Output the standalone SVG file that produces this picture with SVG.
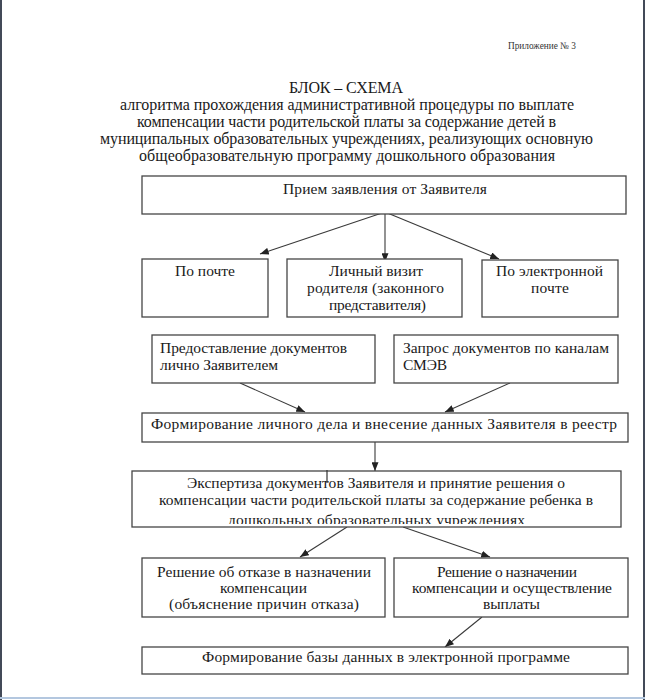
<svg xmlns="http://www.w3.org/2000/svg" width="645" height="700" viewBox="0 0 645 700">
<defs>
<style>
.box{fill:#fff;stroke:#454545;stroke-width:1.3}
.t{font-family:"Liberation Serif","Times New Roman",serif;font-size:15.5px;fill:#1a1a1a}
.c{text-anchor:middle}
.hd{font-family:"Liberation Serif","Times New Roman",serif;font-size:16px;fill:#1a1a1a;text-anchor:middle}
.ln{stroke:#3a3a3a;stroke-width:1.1;fill:none;marker-end:url(#ah)}
</style>
<marker id="ah" viewBox="0 0 10 8" markerWidth="9" markerHeight="7" refX="10" refY="4" orient="auto" markerUnits="userSpaceOnUse">
<path d="M0,0 L10,4 L0,8 z" fill="#222"/>
</marker>
<clipPath id="clipExp"><rect x="132" y="471" width="489" height="53"/></clipPath>
</defs>
<rect x="0" y="0" width="645" height="700" fill="#fff"/>
<rect x="0" y="0" width="2" height="700" fill="#434a58"/>
<rect x="643" y="0" width="2" height="700" fill="#434a58"/>
<rect x="0" y="697" width="645" height="2" fill="#b3c7df"/>

<g id="header">
<text x="508" y="49" font-family="Liberation Serif, serif" font-size="10" fill="#333" textLength="68" lengthAdjust="spacingAndGlyphs">Приложение № 3</text>
<text class="hd" x="346" y="93" textLength="114">БЛОК – СХЕМА</text>
<text class="hd" x="347" y="110" textLength="454">алгоритма прохождения административной процедуры по выплате</text>
<text class="hd" x="346.5" y="127" textLength="419">компенсации части родительской платы за содержание детей в</text>
<text class="hd" x="346.5" y="144" textLength="493">муниципальных образовательных учреждениях, реализующих основную</text>
<text class="hd" x="347" y="161" textLength="416">общеобразовательную программу дошкольного образования</text>
</g>

<g id="connectors">
<line class="ln" x1="385" y1="212" x2="260" y2="254"/>
<line class="ln" x1="385" y1="212" x2="385" y2="262"/>
<line class="ln" x1="385" y1="212" x2="499" y2="259"/>
<line class="ln" x1="240" y1="383" x2="305" y2="412"/>
<line class="ln" x1="510" y1="383" x2="445" y2="412"/>
<line class="ln" x1="375" y1="442" x2="375" y2="471"/>
<line class="ln" x1="347" y1="527" x2="300" y2="557"/>
<line class="ln" x1="403" y1="527" x2="490" y2="557"/>
<line class="ln" x1="482" y1="617" x2="445" y2="647"/>
</g>

<g id="n_priem">
<rect class="box" x="142" y="176" width="484" height="38"/>
<text class="t c" x="385" y="194" textLength="204">Прием заявления от Заявителя</text>
</g>

<g id="n_pochta">
<rect class="box" x="142" y="259" width="126" height="58"/>
<text class="t c" x="205" y="276" textLength="60">По почте</text>
</g>

<g id="n_vizit">
<rect class="box" x="287" y="259" width="175" height="58"/>
<text class="t c" x="376" y="276" textLength="94">Личный визит</text>
<text class="t c" x="375.5" y="293" textLength="137">родителя (законного</text>
<text class="t c" x="377.5" y="310" textLength="97">представителя)</text>
</g>

<g id="n_email">
<rect class="box" x="482" y="260" width="136" height="57"/>
<text class="t c" x="549.5" y="276" textLength="107">По электронной</text>
<text class="t c" x="550" y="293" textLength="38">почте</text>
</g>

<g id="n_lichno">
<rect class="box" x="152" y="335" width="223" height="48"/>
<text class="t" x="160" y="353" textLength="187">Предоставление документов</text>
<text class="t" x="160" y="370" textLength="118">лично Заявителем</text>
</g>

<g id="n_smev">
<rect class="box" x="394" y="335" width="224" height="48"/>
<text class="t" x="403" y="353" textLength="206">Запрос документов  по каналам</text>
<text class="t" x="403" y="370" textLength="44">СМЭВ</text>
</g>

<g id="n_reestr">
<rect class="box" x="142" y="413" width="486" height="29"/>
<text class="t c" x="384" y="429" textLength="466">Формирование  личного дела и внесение данных Заявителя в реестр</text>
</g>

<g id="n_expertiza">
<rect class="box" x="132" y="471" width="489" height="56"/>
<text class="t c" x="376" y="488" textLength="378">Экспертиза документов Заявителя и принятие решения о</text>
<text class="t c" x="376" y="505" textLength="434">компенсации части родительской платы за содержание ребенка в</text>
<text class="t c" x="376.5" y="524.5" textLength="297" clip-path="url(#clipExp)">дошкольных образовательных учреждениях</text>
<line x1="327" y1="470" x2="327" y2="483" stroke="#333" stroke-width="1.2"/>
</g>

<g id="n_otkaz">
<rect class="box" x="142" y="558" width="243" height="59"/>
<text class="t c" x="264" y="577" textLength="214">Решение об отказе в назначении</text>
<text class="t c" x="263.5" y="593" textLength="87">компенсации</text>
<text class="t c" x="264" y="609" textLength="190">(объяснение причин  отказа)</text>
</g>

<g id="n_naznach">
<rect class="box" x="394" y="558" width="234" height="59"/>
<text class="t c" x="507" y="577" textLength="140">Решение о назначении</text>
<text class="t c" x="512" y="593" textLength="200">компенсации и осуществление</text>
<text class="t c" x="511.5" y="609" textLength="57">выплаты</text>
</g>

<g id="n_baza">
<rect class="box" x="142" y="647" width="486" height="27"/>
<text class="t c" x="386" y="662" textLength="368">Формирование базы данных в электронной программе</text>
</g>
</svg>
